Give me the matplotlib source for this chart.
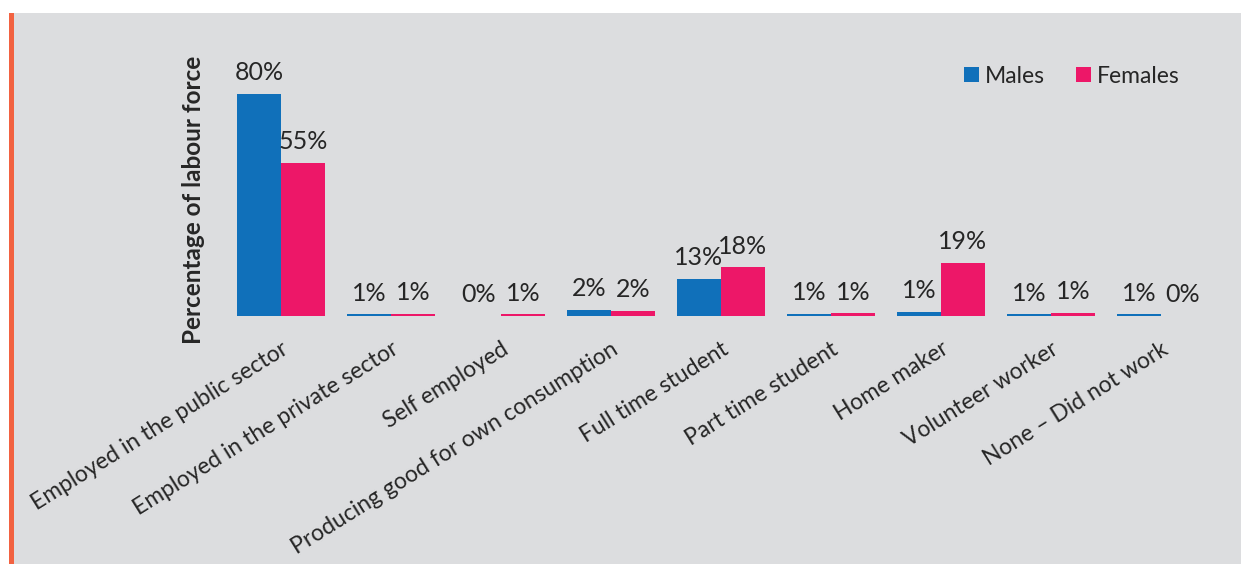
import matplotlib
matplotlib.use("Agg")
import matplotlib.pyplot as plt
from matplotlib.patches import Rectangle
import numpy as np

categories = [
    "Employed in the public sector",
    "Employed in the private sector",
    "Self employed",
    "Producing good for own consumption",
    "Full time student",
    "Part time student",
    "Home maker",
    "Volunteer worker",
    "None \u2013 Did not work",
]
males = [80.2, 0.6, 0.0, 2.2, 13.4, 0.7, 1.4, 0.6, 0.6]
females = [55.3, 0.7, 0.6, 1.8, 17.6, 1.0, 19.2, 1.2, 0.0]
series_names = ["Males", "Females"]

BLUE = "#1070BA"
PINK = "#ED1768"
PANEL = "#DCDDDF"
ACCENT = "#F26241"
TEXT = "#262626"

plt.rcParams["font.family"] = ["Lato", "DejaVu Sans"]

W, H = 1241, 564
fig = plt.figure(figsize=(W / 100, H / 100), dpi=100)
fig.patch.set_facecolor("white")

# grey panel with an orange accent strip on the left
fig.patches.append(Rectangle((14 / W, 0), 1 - 14 / W, 1 - 13 / H,
                             transform=fig.transFigure, facecolor=PANEL,
                             edgecolor="none", zorder=-2))
fig.patches.append(Rectangle((9 / W, 0), 5 / W, 1 - 13 / H,
                             transform=fig.transFigure, facecolor=ACCENT,
                             edgecolor="none", zorder=-2))

ax = fig.add_axes([226 / W, (H - 316) / H, 990 / W, 249 / H])
ax.set_facecolor("none")
ax.set_zorder(1)

x = np.arange(len(categories))
width = 0.4
b1 = ax.bar(x - width / 2, males, width, color=BLUE, label=series_names[0])
b2 = ax.bar(x + width / 2, females, width, color=PINK, label=series_names[1])

for bars in (b1, b2):
    ax.bar_label(bars, labels=[f"{v:.0f}%" for v in bars.datavalues],
                 padding=7, fontsize=18, color=TEXT)

ax.set_xlim(-0.5, len(categories) - 0.5)
ax.set_ylim(0, 90)
ax.set_yticks([])
ax.set_xticks(x)
ax.set_xticklabels(categories, rotation=32, ha="right", va="top",
                   rotation_mode="anchor", fontsize=16.5, color=TEXT)
ax.tick_params(axis="x", length=0, pad=16)
for s in ax.spines.values():
    s.set_visible(False)

fig.text(194 / W, 1 - 200 / H, "Percentage of labour force", rotation=90,
         ha="center", va="center", fontsize=17.5, fontweight="bold", color=TEXT)

leg = ax.legend(loc="upper right", bbox_to_anchor=(1200 / W, 1 - 45 / H),
                bbox_transform=fig.transFigure, ncol=2, frameon=False,
                fontsize=16.5, handlelength=0.65, handleheight=0.65,
                handletextpad=0.25, columnspacing=1.35, labelcolor=TEXT)

fig.savefig("out.png", dpi=100, facecolor=fig.get_facecolor())
